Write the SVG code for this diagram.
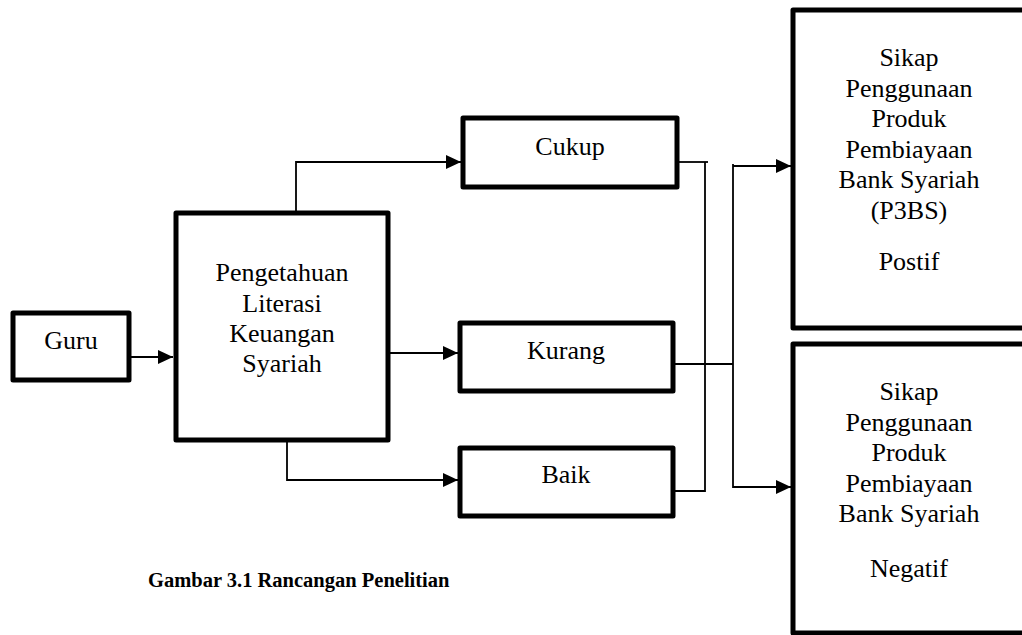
<svg xmlns="http://www.w3.org/2000/svg" width="1022" height="635" viewBox="0 0 1022 635">
<style>
.box{fill:#fff;stroke:#000;stroke-width:5;stroke-linejoin:round}
.t{font-family:"Liberation Serif","Times New Roman",serif;font-size:26px;fill:#000;text-anchor:middle}
.cap{font-family:"Liberation Serif","Times New Roman",serif;font-size:20.5px;font-weight:bold;fill:#000}
.c{fill:none;stroke:#000;stroke-width:1.8}
</style>
<defs>
<marker id="ah" markerUnits="userSpaceOnUse" markerWidth="16" markerHeight="14" refX="15" refY="7" orient="auto">
<path d="M0,0 L15,7 L0,14 z" fill="#000"/>
</marker>
</defs>
<rect width="1022" height="635" fill="#fff"/>
<g id="connectors">
<path class="c" d="M130,357 H173" marker-end="url(#ah)"/>
<path class="c" d="M296,213 V162 H461" marker-end="url(#ah)"/>
<path class="c" d="M385,353 H458" marker-end="url(#ah)"/>
<path class="c" d="M287,440 V480 H458" marker-end="url(#ah)"/>
<path class="c" d="M677,162 H708"/>
<path class="c" d="M705,162 V491 H668"/>
<path class="c" d="M673,364 H733"/>
<path class="c" d="M733,164 V488"/>
<path class="c" d="M733,166 H791" marker-end="url(#ah)"/>
<path class="c" d="M733,487 H791" marker-end="url(#ah)"/>
</g>
<g id="guru">
<rect class="box" x="13" y="313" width="116" height="67"/>
<text class="t" x="71" y="349">Guru</text>
</g>
<g id="pengetahuan">
<rect class="box" x="176" y="213" width="212" height="227"/>
<text class="t" x="282" y="281">Pengetahuan</text>
<text class="t" x="282" y="312">Literasi</text>
<text class="t" x="282" y="342">Keuangan</text>
<text class="t" x="282" y="372">Syariah</text>
</g>
<g id="cukup">
<rect class="box" x="463" y="118" width="214" height="69"/>
<text class="t" x="570" y="155">Cukup</text>
</g>
<g id="kurang">
<rect class="box" x="460" y="323" width="213" height="68"/>
<text class="t" x="566" y="359">Kurang</text>
</g>
<g id="baik">
<rect class="box" x="460" y="448" width="213" height="68"/>
<text class="t" x="566" y="483">Baik</text>
</g>
<g id="positif">
<rect class="box" x="793" y="10" width="240" height="318"/>
<text class="t" x="909" y="66">Sikap</text>
<text class="t" x="909" y="97">Penggunaan</text>
<text class="t" x="909" y="127">Produk</text>
<text class="t" x="909" y="158">Pembiayaan</text>
<text class="t" x="909" y="188">Bank Syariah</text>
<text class="t" x="909" y="219">(P3BS)</text>
<text class="t" x="909" y="270">Postif</text>
</g>
<g id="negatif">
<rect class="box" x="793" y="344" width="240" height="289"/>
<text class="t" x="909" y="400">Sikap</text>
<text class="t" x="909" y="431">Penggunaan</text>
<text class="t" x="909" y="461">Produk</text>
<text class="t" x="909" y="492">Pembiayaan</text>
<text class="t" x="909" y="522">Bank Syariah</text>
<text class="t" x="909" y="577">Negatif</text>
</g>
<text class="cap" x="148" y="587">Gambar 3.1 Rancangan Penelitian</text>
</svg>
